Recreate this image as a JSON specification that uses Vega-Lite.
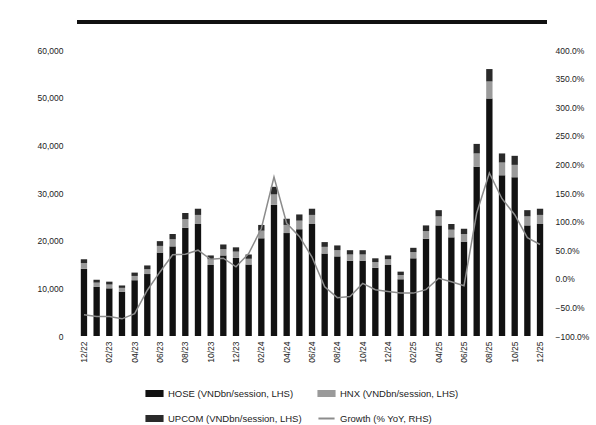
{
  "$schema": "https://vega.github.io/schema/vega-lite/v6.json",
  "width": 470,
  "height": 286,
  "autosize": "none",
  "padding": {"left": 77, "top": 50, "right": 49, "bottom": 89},
  "background": "white",
  "config": {
    "view": {"stroke": null},
    "font": "Liberation Sans",
    "axis": {"grid": false, "domain": false, "ticks": false, "labelColor": "#222", "labelFontSize": 8.5, "labelFont": "Liberation Sans", "title": null},
    "legend": {"labelFont": "Liberation Sans", "labelFontSize": 9.5, "labelColor": "#222"}
  },
  "data": {"values": [
    {"month": "12/22", "HOSE": 14100, "HNX": 1200, "UPCOM": 800, "growth": -63},
    {"month": "01/23", "HOSE": 10300, "HNX": 900, "UPCOM": 600, "growth": -66},
    {"month": "02/23", "HOSE": 10000, "HNX": 800, "UPCOM": 600, "growth": -66},
    {"month": "03/23", "HOSE": 9300, "HNX": 800, "UPCOM": 500, "growth": -70},
    {"month": "04/23", "HOSE": 11700, "HNX": 900, "UPCOM": 700, "growth": -61},
    {"month": "05/23", "HOSE": 13000, "HNX": 1000, "UPCOM": 800, "growth": -20},
    {"month": "06/23", "HOSE": 17500, "HNX": 1400, "UPCOM": 1000, "growth": 12},
    {"month": "07/23", "HOSE": 18800, "HNX": 1500, "UPCOM": 1100, "growth": 42},
    {"month": "08/23", "HOSE": 22700, "HNX": 1800, "UPCOM": 1300, "growth": 43},
    {"month": "09/23", "HOSE": 23500, "HNX": 1900, "UPCOM": 1300, "growth": 50},
    {"month": "10/23", "HOSE": 14900, "HNX": 1200, "UPCOM": 800, "growth": 34},
    {"month": "11/23", "HOSE": 16900, "HNX": 1300, "UPCOM": 1000, "growth": 36},
    {"month": "12/23", "HOSE": 16400, "HNX": 1300, "UPCOM": 900, "growth": 21},
    {"month": "01/24", "HOSE": 15000, "HNX": 1200, "UPCOM": 900, "growth": 44},
    {"month": "02/24", "HOSE": 20500, "HNX": 1600, "UPCOM": 1200, "growth": 88},
    {"month": "03/24", "HOSE": 27500, "HNX": 2200, "UPCOM": 1600, "growth": 178},
    {"month": "04/24", "HOSE": 21600, "HNX": 1700, "UPCOM": 1300, "growth": 97},
    {"month": "05/24", "HOSE": 22400, "HNX": 1800, "UPCOM": 1300, "growth": 74},
    {"month": "06/24", "HOSE": 23500, "HNX": 1900, "UPCOM": 1300, "growth": 38},
    {"month": "07/24", "HOSE": 17300, "HNX": 1400, "UPCOM": 1000, "growth": -14},
    {"month": "08/24", "HOSE": 16700, "HNX": 1300, "UPCOM": 1000, "growth": -33},
    {"month": "09/24", "HOSE": 15800, "HNX": 1300, "UPCOM": 900, "growth": -31},
    {"month": "10/24", "HOSE": 15800, "HNX": 1300, "UPCOM": 900, "growth": -8},
    {"month": "11/24", "HOSE": 14300, "HNX": 1200, "UPCOM": 800, "growth": -19},
    {"month": "12/24", "HOSE": 14900, "HNX": 1200, "UPCOM": 800, "growth": -22},
    {"month": "01/25", "HOSE": 11900, "HNX": 900, "UPCOM": 700, "growth": -25},
    {"month": "02/25", "HOSE": 16300, "HNX": 1300, "UPCOM": 900, "growth": -25},
    {"month": "03/25", "HOSE": 20400, "HNX": 1600, "UPCOM": 1200, "growth": -19},
    {"month": "04/25", "HOSE": 23200, "HNX": 1900, "UPCOM": 1300, "growth": 1},
    {"month": "05/25", "HOSE": 20700, "HNX": 1600, "UPCOM": 1200, "growth": -5},
    {"month": "06/25", "HOSE": 19800, "HNX": 1600, "UPCOM": 1100, "growth": -12},
    {"month": "07/25", "HOSE": 35500, "HNX": 2800, "UPCOM": 2000, "growth": 115},
    {"month": "08/25", "HOSE": 49800, "HNX": 3600, "UPCOM": 2600, "growth": 185},
    {"month": "09/25", "HOSE": 33700, "HNX": 2700, "UPCOM": 1900, "growth": 140},
    {"month": "10/25", "HOSE": 33300, "HNX": 2600, "UPCOM": 1900, "growth": 112},
    {"month": "11/25", "HOSE": 23200, "HNX": 1900, "UPCOM": 1300, "growth": 72},
    {"month": "12/25", "HOSE": 23500, "HNX": 1900, "UPCOM": 1300, "growth": 60}
  ]},
  "layer": [
    {
      "transform": [{"fold": ["HOSE", "HNX", "UPCOM"], "as": ["series", "value"]}],
      "mark": {"type": "bar"},
      "encoding": {
        "x": {"field": "month", "type": "ordinal", "sort": null,
          "scale": {"paddingInner": 0.5, "paddingOuter": 0.3},
          "axis": {"labelAngle": -90, "labelPadding": 5,
            "values": ["12/22", "02/23", "04/23", "06/23", "08/23", "10/23", "12/23", "02/24", "04/24", "06/24", "08/24", "10/24", "12/24", "02/25", "04/25", "06/25", "08/25", "10/25", "12/25"]}},
        "y": {"field": "value", "type": "quantitative", "stack": "zero",
          "scale": {"domain": [0, 60000], "nice": false},
          "axis": {"values": [0, 10000, 20000, 30000, 40000, 50000, 60000], "format": ",.0f", "labelPadding": 14}},
        "order": {"field": "value", "type": "quantitative", "sort": "descending"},
        "color": {"field": "series", "type": "nominal",
          "scale": {"domain": ["HOSE", "HNX", "UPCOM", "Growth"], "range": ["#111111", "#9a9a9a", "#2a2a2a", "#8c8c8c"]},
          "legend": {
            "orient": "none", "legendX": 68, "legendY": 334, "columns": 2, "direction": "horizontal", "gridAlign": "none",
            "columnPadding": 12, "rowPadding": 9, "title": null,
            "symbolSize": 260, "symbolStrokeWidth": 2,
            "labelExpr": "datum.label == 'HOSE' ? 'HOSE (VNDbn/session, LHS)' : datum.label == 'HNX' ? 'HNX (VNDbn/session, LHS)' : datum.label == 'UPCOM' ? 'UPCOM (VNDbn/session, LHS)' : 'Growth (% YoY, RHS)'",
            "encode": {"symbols": {"update": {
              "shape": [{"test": "datum.value == 'Growth'", "value": "stroke"}, {"value": "M-1,-0.3H1V0.3H-1Z"}],
              "stroke": [{"test": "datum.value == 'Growth'", "value": "#8c8c8c"}, {"value": null}]
            }}}
          }}
      }
    },
    {
      "mark": {"type": "line", "strokeWidth": 1.5},
      "encoding": {
        "x": {"field": "month", "type": "ordinal", "sort": null},
        "y": {"field": "growth", "type": "quantitative",
          "scale": {"domain": [-100, 400], "nice": false},
          "axis": {"orient": "right", "values": [-100, -50, 0, 50, 100, 150, 200, 250, 300, 350, 400], "labelExpr": "format(datum.value, '.1f') + '%'", "labelPadding": 8}},
        "color": {"datum": "Growth"}
      }
    },
    {
      "mark": {"type": "rule", "strokeWidth": 4, "color": "#111111", "clip": false},
      "encoding": {
        "y": {"datum": 449, "type": "quantitative", "scale": {"domain": [-100, 400], "nice": false}, "axis": null}
      }
    }
  ],
  "resolve": {"scale": {"y": "independent"}}
}
